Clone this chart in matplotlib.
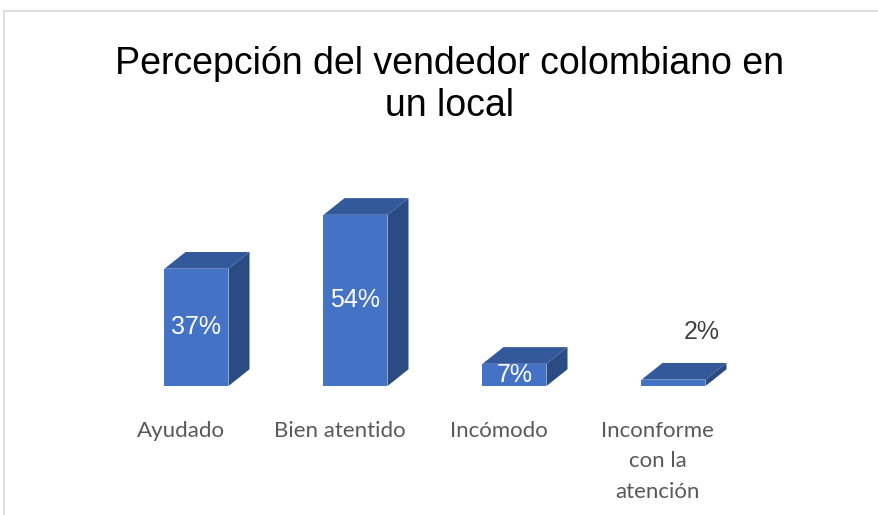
import matplotlib
matplotlib.use("Agg")
import matplotlib.pyplot as plt
from matplotlib.patches import Polygon, Rectangle

categories = ["Ayudado", "Bien atentido", "Incómodo", "Inconforme\ncon la\natención"]
values = [37, 54, 7, 2]
labels = ["37%", "54%", "7%", "2%"]
title = "Percepción del vendedor colombiano en\nun local"

W, H = 879, 515
fig = plt.figure(figsize=(W / 100, H / 100), dpi=100)
fig.patch.set_facecolor("white")

# chart border (cropped on right and bottom)
fig.add_artist(Rectangle((4 / W, -0.1), 1.2, (H - 11) / H + 0.1, transform=fig.transFigure,
                         fill=False, edgecolor="#D9D9D9", linewidth=1.2))

px_per_unit = 3.17
cat_px = 159.0
x0_px = 180.5
base_px = 386
top_px = 140
ax = fig.add_axes([0, (H - base_px) / H, 1, (base_px - top_px) / H])
ax.set_xlim(-x0_px / cat_px, (W - x0_px) / cat_px)
ax.set_ylim(0, (base_px - top_px) / px_per_unit)
ax.patch.set_alpha(0)
for s in ax.spines.values():
    s.set_visible(False)
ax.set_yticks([])

front = "#4472C4"
topc = "#34599A"
sidec = "#2B4B83"
bw = 64 / cat_px
shift = 16 / cat_px
dx = 21 / cat_px
dy = 16.7 / px_per_unit

xs = [i + shift for i in range(len(values))]
bars = ax.bar(xs, values, width=bw, color=front, zorder=3, clip_on=False)
for b, v in zip(bars, values):
    xl = b.get_x()
    xr = xl + b.get_width()
    ax.add_patch(Polygon([(xl, v), (xr, v), (xr + dx, v + dy), (xl + dx, v + dy)],
                         closed=True, facecolor=topc, edgecolor="none", zorder=3, clip_on=False))
    ax.add_patch(Polygon([(xr, 0), (xr + dx, dy), (xr + dx, v + dy), (xr, v)],
                         closed=True, facecolor=sidec, edgecolor="none", zorder=3, clip_on=False))

for b, v, lab in zip(bars, values, labels):
    xc = b.get_x() + b.get_width() / 2
    if v >= 5:
        ax.text(xc, v / 2, lab, ha="center", va="center", color="white",
                fontsize=18, family="Liberation Sans", zorder=5)
    else:
        ax.annotate(lab, (xc, v), xytext=(20, 34.5), textcoords="offset points",
                    ha="center", va="center", color="#404040", fontsize=18,
                    family="Liberation Sans", zorder=5)

ax.set_xticks(range(len(categories)))
ax.set_xticklabels(categories, fontsize=16, color="#595959", family="Lato",
                   linespacing=1.65, va="top")
ax.tick_params(axis="x", length=0, pad=25)

fig.text(449.5 / W, 1 - 85 / H, title, ha="center", va="center", fontsize=27,
         family="Liberation Sans", color="black", linespacing=1.24)

fig.savefig("out.png", dpi=100, facecolor="white")
